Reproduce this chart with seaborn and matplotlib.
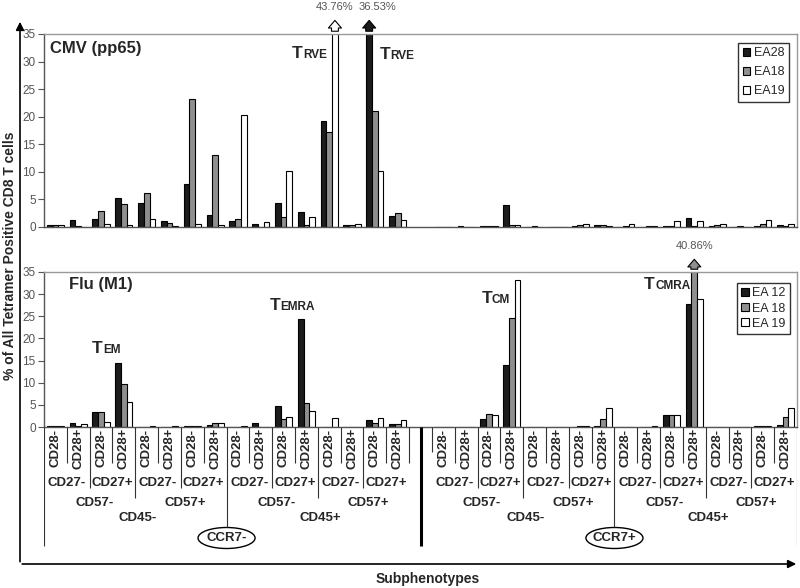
import numpy as np
import pandas as pd
import matplotlib.pyplot as plt
import seaborn as sns
from matplotlib.patches import Ellipse

sns.set_style('white')
plt.rcParams['font.family'] = ['Liberation Sans', 'DejaVu Sans']

# subphenotype hierarchy, outer level first
ccr7 = ['CCR7-', 'CCR7+']
cd45 = ['CD45-', 'CD45+']
cd57 = ['CD57-', 'CD57+']
cd27 = ['CD27-', 'CD27+']
cd28 = ['CD28-', 'CD28+']

# CMV (pp65) tetramer, % of all tetramer+ CD8 T cells
cmv_donors = ['EA28', 'EA18', 'EA19']
cmv_ea28 = [0.4, 1.3, 1.4, 5.2, 4.4, 1.1, 7.8, 2.2, 1.1, 0.5, 4.4, 2.7, 19.3, 0.4, 36.53, 2.0,
            0.0, 0.1, 0.1, 3.9, 0.0, 0.0, 0.1, 0.4, 0.0, 0.0, 0.1, 1.7, 0.1, 0.0, 0.1, 0.4]
cmv_ea18 = [0.3, 0.2, 2.9, 4.2, 6.1, 0.8, 23.2, 13.0, 1.5, 0.0, 1.9, 0.3, 17.3, 0.3, 21.0, 2.6,
            0.0, 0.0, 0.1, 0.4, 0.1, 0.0, 0.3, 0.4, 0.1, 0.1, 0.1, 0.2, 0.3, 0.1, 0.5, 0.2]
cmv_ea19 = [0.4, 0.0, 0.5, 0.3, 1.5, 0.2, 0.5, 0.3, 20.3, 0.9, 10.2, 1.9, 43.76, 0.5, 10.2, 1.2,
            0.0, 0.0, 0.1, 0.4, 0.0, 0.0, 0.6, 0.1, 0.5, 0.1, 1.1, 1.1, 0.6, 0.0, 1.3, 0.6]

# Flu (M1) tetramer
flu_donors = ['EA 12', 'EA 18', 'EA 19']
flu_ea12 = [0.2, 1.0, 3.4, 14.4, 0.0, 0.0, 0.2, 0.4, 0.1, 1.0, 4.8, 24.4, 0.1, 0.0, 1.6, 0.7,
            0.1, 0.1, 1.8, 13.9, 0.0, 0.1, 0.0, 0.3, 0.0, 0.1, 2.6, 27.8, 0.0, 0.0, 0.2, 0.5]
flu_ea18 = [0.2, 0.3, 3.4, 9.8, 0.0, 0.0, 0.3, 1.0, 0.0, 0.0, 1.8, 5.4, 0.0, 0.1, 0.8, 0.7,
            0.1, 0.1, 3.0, 24.6, 0.1, 0.1, 0.2, 1.7, 0.1, 0.1, 2.6, 40.86, 0.1, 0.1, 0.3, 2.3]
flu_ea19 = [0.2, 0.6, 1.2, 5.7, 0.3, 0.3, 0.3, 0.9, 0.3, 0.0, 2.2, 3.6, 2.1, 0.0, 2.0, 1.6,
            0.1, 0.1, 2.6, 33.1, 0.0, 0.1, 0.2, 4.4, 0.0, 0.2, 2.6, 28.9, 0.0, 0.0, 0.3, 4.4]

subsets = [f'{a}/{b}/{c}/{d}/{e}' for a in ccr7 for b in cd45 for c in cd57 for d in cd27 for e in cd28]
order = subsets[:16] + ['gap'] + subsets[16:]


def long_df(donors, series):
    rows = []
    for d, vals in zip(donors, series):
        for s, v in zip(subsets, vals):
            rows.append({'subset': s, 'donor': d, 'value': v})
    return pd.DataFrame(rows)


cmv = long_df(cmv_donors, [cmv_ea28, cmv_ea18, cmv_ea19])
flu = long_df(flu_donors, [flu_ea12, flu_ea18, flu_ea19])
colors = ['#1c1c1c', '#8f8f8f', '#ffffff']

fig = plt.figure(figsize=(8, 5.88), dpi=100)


def px(l, t, r, b):
    return [l / 800, 1 - b / 588, (r - l) / 800, (b - t) / 588]


ax_top = fig.add_axes(px(44, 34, 797, 227))
ax_bot = fig.add_axes(px(44, 272, 797, 427))
ax_lab = fig.add_axes(px(44, 427, 797, 565))

for ax, df, anchor, lspace in [(ax_top, cmv, (789, 43), 0.55), (ax_bot, flu, (790, 283), 0.25)]:
    sns.barplot(data=df, x='subset', y='value', hue='donor', order=order, palette=colors,
                edgecolor='black', linewidth=0.8, width=0.75, gap=0, ax=ax)
    ax.set_xlim(-0.5, 32.5)
    ax.set_ylim(0, 35)
    ax.set_yticks(range(0, 36, 5))
    ax.set_xlabel('')
    ax.set_ylabel('')
    ax.tick_params(axis='x', length=0, labelbottom=False)
    ax.tick_params(axis='y', direction='out', length=4, width=0.8, color='#555',
                   labelcolor='#555', labelsize=8.5, pad=2, left=True)
    for side in ['top', 'right']:
        ax.spines[side].set_color('#999')
        ax.spines[side].set_linewidth(1)
    for side in ['left', 'bottom']:
        ax.spines[side].set_color('#555')
        ax.spines[side].set_linewidth(1)
    leg = ax.legend(loc='upper right', bbox_to_anchor=(anchor[0] / 800, 1 - anchor[1] / 588),
                    bbox_transform=fig.transFigure, borderaxespad=0, fontsize=9,
                    handlelength=0.6, handleheight=0.6, handletextpad=0.3, borderpad=0.35,
                    labelspacing=lspace, fancybox=False, framealpha=1, edgecolor='#333')
    leg.get_frame().set_linewidth(1)

# arrows for bars cut off at 35 %
arrow_style = 'simple,head_length=0.5,head_width=0.85,tail_width=0.45'
for ax, df, donors, tip, txt_y in [(ax_top, cmv, cmv_donors, 1.085, 1.14),
                                   (ax_bot, flu, flu_donors, 1.1, 1.165)]:
    big = df[df['value'] > 35]
    for _, r in big.iterrows():
        k = donors.index(r['donor'])
        x = order.index(r['subset']) + (k - 1) * 0.25
        ax.annotate('', xy=(x, tip), xytext=(x, 1.0), xycoords=('data', 'axes fraction'),
                    arrowprops=dict(arrowstyle=arrow_style, mutation_scale=11,
                                    fc=colors[k], ec='black', lw=0.8), annotation_clip=False)
        ax.text(x + (0.35 if k == 0 else 0), txt_y, f"{r['value']:.2f}%",
                transform=ax.get_xaxis_transform(), ha='center', va='center',
                fontsize=8, color='#555')

# category labels under the lower panel
ax_lab.set_xlim(-0.5, 32.5)
ax_lab.set_ylim(565, 427)
ax_lab.set_axis_off()
lab = dict(fontsize=9.5, fontweight='bold', ha='center', va='center')
for sec, c7 in enumerate(ccr7):
    off = 17 * sec
    for i in range(16):
        ax_lab.text(off + i, 448, cd28[i % 2], rotation=90, **lab)
    for j in range(8):
        ax_lab.text(off + 2 * j + 0.5, 483, cd27[j % 2], **lab)
    for j in range(4):
        ax_lab.text(off + 4 * j + 1.7, 503, cd57[j % 2], **lab)
    for j in range(2):
        ax_lab.text(off + 8 * j + 3.6, 518, cd45[j], **lab)
    ax_lab.text(off + 7.5, 538, c7, **lab)
    ax_lab.add_patch(Ellipse((off + 7.5, 538), 2.5, 21, fill=False, ec='black', lw=1))
    for k in range(17):
        if k == 0:
            yend = 546 if sec == 0 else 452
        elif k == 16:
            yend = 463 if sec == 0 else 546
        elif k % 2 == 1:
            yend = 463
        elif k % 4 == 2:
            yend = 488
        elif k % 8 == 4:
            yend = 498
        else:
            yend = 527
        ax_lab.vlines(off + k - 0.5, 427, yend, color='#333', lw=0.8)
ax_lab.vlines(order.index('gap'), 427, 546, color='black', lw=2.2)

# overlay in figure pixels: frame arrows, titles and subset names
ax_bg = fig.add_axes([0, 0, 1, 1])
ax_bg.set_xlim(0, 800)
ax_bg.set_ylim(588, 0)
ax_bg.set_axis_off()
ax_bg.annotate('', xy=(20, 19), xytext=(20, 564.5),
               arrowprops=dict(arrowstyle='-|>', lw=1.2, color='black', mutation_scale=12))
ax_bg.annotate('', xy=(799, 564), xytext=(19.4, 564),
               arrowprops=dict(arrowstyle='-|>', lw=1.2, color='black', mutation_scale=12))
ax_bg.text(10, 256, '% of All Tetramer Positive CD8 T cells', rotation=90, ha='center',
           va='center', fontsize=10, fontweight='bold')
ax_bg.text(428, 579, 'Subphenotypes', ha='center', va='center', fontsize=10, fontweight='bold')
ax_bg.text(50, 49, 'CMV (pp65)', ha='left', va='center', fontsize=12, fontweight='bold')
ax_bg.text(69, 285, 'Flu (M1)', ha='left', va='center', fontsize=12, fontweight='bold')

for split, base, sub in [(303, 58, 'RVE'), (390, 59, 'RVE'), (103, 353, 'EM'),
                         (280, 310, 'EMRA'), (492, 303, 'CM'), (655, 289, 'CMRA')]:
    ax_bg.text(split, base, 'T', ha='right', va='baseline', fontsize=12.5, fontweight='bold')
    ax_bg.text(split, base, sub, ha='left', va='baseline', fontsize=8.5, fontweight='bold')

fig.savefig('out.png', dpi=100)
